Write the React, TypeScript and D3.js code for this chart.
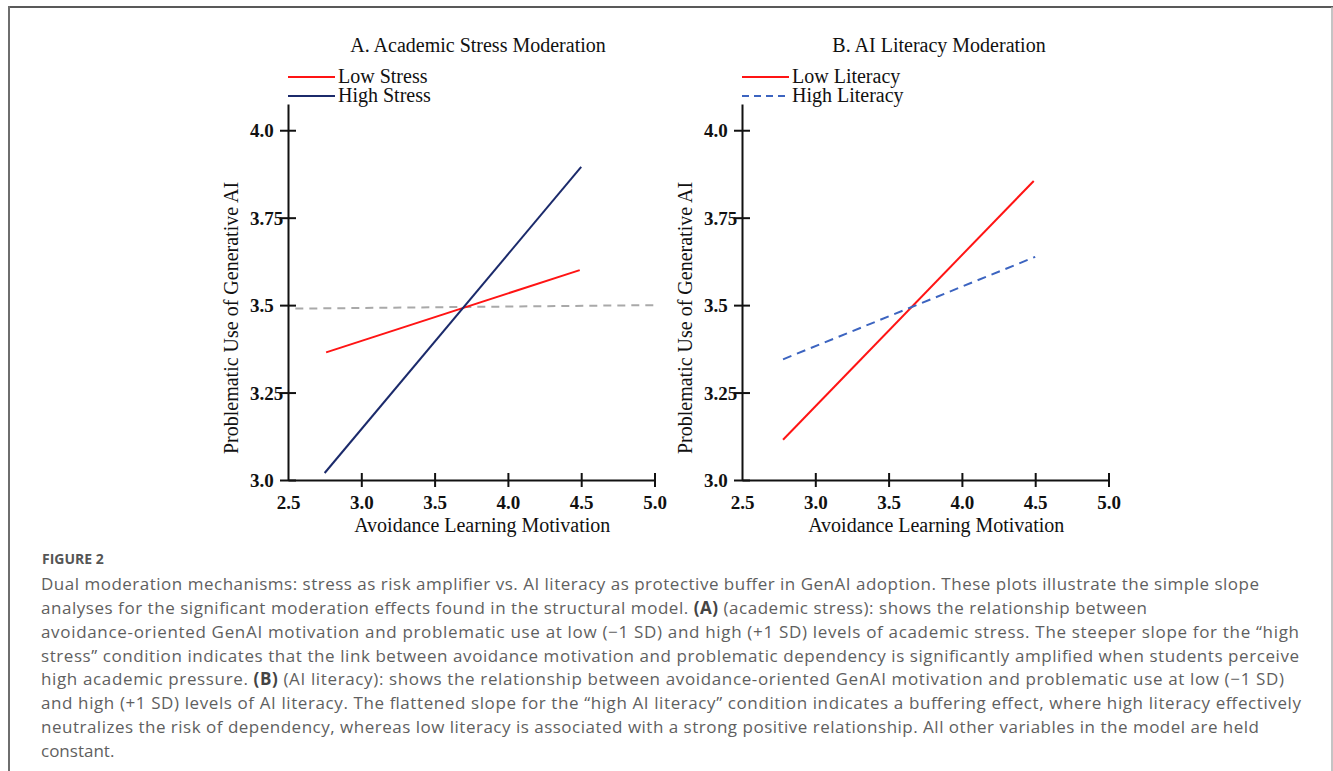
import { useEffect, useRef } from 'react'
import * as d3 from 'd3'

// eixos compartilhados pelos dois painéis
const X_TICKS = [2.5, 3.0, 3.5, 4.0, 4.5, 5.0]
const X_TICK_LABELS = ['2.5', '3.0', '3.5', '4.0', '4.5', '5.0']
const Y_TICKS = [3.0, 3.25, 3.5, 3.75, 4.0]
const Y_TICK_LABELS = ['3.0', '3.25', '3.5', '3.75', '4.0']
const X_DOMAIN = [2.5, 5.0]
const Y_DOMAIN = [3.0, 4.075] // o eixo y sobe um pouco acima do 4.0

// painel A — estresse acadêmico
const LOW_STRESS: [number, number][] = [[2.76, 3.365], [4.49, 3.6]]
const HIGH_STRESS: [number, number][] = [[2.75, 3.02], [4.5, 3.895]]
const REFERENCE: [number, number][] = [[2.55, 3.49], [5.0, 3.5]]

// painel B — letramento em IA
const LOW_LITERACY: [number, number][] = [[2.78, 3.115], [4.49, 3.855]]
const HIGH_LITERACY: [number, number][] = [[2.78, 3.345], [4.5, 3.638]]

const RED = '#ff1414'
const NAVY = '#1b2a6b'
const BLUE = '#3c64c0'
const GREY = '#a9a9a9'
const SERIF = '"Liberation Serif", "Times New Roman", serif'
const SANS = '"Open Sans", Lato, sans-serif'

// cada linha da legenda: trechos [texto, negrito] e largura da linha no original
const CAPTION: [string, boolean][][] = [
  [['Dual moderation mechanisms: stress as risk amplifier vs. AI literacy as protective buffer in GenAI adoption. These plots illustrate the simple slope', false]],
  [['analyses for the significant moderation effects found in the structural model. ', false], ['(A)', true], [' (academic stress): shows the relationship between', false]],
  [['avoidance-oriented GenAI motivation and problematic use at low (\u22121 SD) and high (+1 SD) levels of academic stress. The steeper slope for the \u201chigh', false]],
  [['stress\u201d condition indicates that the link between avoidance motivation and problematic dependency is significantly amplified when students perceive', false]],
  [['high academic pressure. ', false], ['(B)', true], [' (AI literacy): shows the relationship between avoidance-oriented GenAI motivation and problematic use at low (\u22121 SD)', false]],
  [['and high (+1 SD) levels of AI literacy. The flattened slope for the \u201chigh AI literacy\u201d condition indicates a buffering effect, where high literacy effectively', false]],
  [['neutralizes the risk of dependency, whereas low literacy is associated with a strong positive relationship. All other variables in the model are held', false]],
  [['constant.', false]],
]
const CAPTION_WIDTHS = [1218, 1106, 1258, 1258, 1243, 1260, 1218, null]

type Series = { label: string; data: [number, number][]; color: string; dash: string | null; legendDash: string | null }
type Panel = { left: number; title: string; titleX: number; series: Series[]; extra: Series[] }

const PANELS: Panel[] = [
  {
    left: 288,
    title: 'A. Academic Stress Moderation',
    titleX: 478,
    series: [
      { label: 'Low Stress', data: LOW_STRESS, color: RED, dash: null, legendDash: null },
      { label: 'High Stress', data: HIGH_STRESS, color: NAVY, dash: null, legendDash: null },
    ],
    extra: [{ label: '', data: REFERENCE, color: GREY, dash: '8,6', legendDash: null }],
  },
  {
    left: 742,
    title: 'B. AI Literacy Moderation',
    titleX: 939,
    series: [
      { label: 'Low Literacy', data: LOW_LITERACY, color: RED, dash: null, legendDash: null },
      { label: 'High Literacy', data: HIGH_LITERACY, color: BLUE, dash: '9,6', legendDash: '7,5' },
    ],
    extra: [],
  },
]

function drawPanel(svg: d3.Selection<SVGSVGElement, unknown, null, undefined>, p: Panel) {
  const W = 366.5
  const x = d3.scaleLinear().domain(X_DOMAIN).range([p.left, p.left + W])
  const y = d3.scaleLinear().domain(Y_DOMAIN).range([480, 104])
  const g = svg.append('g')

  // título
  g.append('text')
    .attr('x', p.titleX).attr('y', 52)
    .attr('text-anchor', 'middle')
    .attr('font-family', SERIF).attr('font-size', 20).attr('fill', '#111')
    .text(p.title)

  // legenda
  p.series.forEach((s, i) => {
    const ly = 77 + i * 19
    g.append('line')
      .attr('x1', p.left).attr('x2', p.left + 47).attr('y1', ly).attr('y2', ly)
      .attr('stroke', s.color).attr('stroke-width', 2)
      .attr('stroke-dasharray', s.legendDash)
    g.append('text')
      .attr('x', p.left + 50).attr('y', ly + 6)
      .attr('font-family', SERIF).attr('font-size', 20).attr('fill', '#111')
      .text(s.label)
  })

  // eixo y
  g.append('g')
    .attr('transform', `translate(${p.left},0)`)
    .call(d3.axisLeft(y).tickValues(Y_TICKS).tickSize(8).tickSizeOuter(0)
      .tickFormat((d, i) => Y_TICK_LABELS[i]))
    .call(s => s.select('.domain').attr('stroke', '#111').attr('stroke-width', 2))
    .call(s => s.selectAll('.tick line').attr('x1', 8).attr('stroke', '#111').attr('stroke-width', 2))
    .call(s => s.selectAll('.tick text')
      .attr('x', -38).attr('dy', '0.34em').attr('text-anchor', 'start')
      .attr('font-family', SERIF).attr('font-weight', 700).attr('font-size', 19).attr('fill', '#111'))

  // eixo x
  g.append('g')
    .attr('transform', 'translate(0,480)')
    .call(d3.axisBottom(x).tickValues(X_TICKS).tickSize(7).tickSizeOuter(0)
      .tickFormat((d, i) => X_TICK_LABELS[i]))
    .call(s => s.select('.domain').attr('stroke', '#111').attr('stroke-width', 2))
    .call(s => s.selectAll('.tick line').attr('y1', -7).attr('stroke', '#111').attr('stroke-width', 2)
      .attr('opacity', (d: any) => (d === X_DOMAIN[0] ? 0 : 1)))
    .call(s => s.selectAll('.tick text')
      .attr('y', 29).attr('dy', 0)
      .attr('font-family', SERIF).attr('font-weight', 700).attr('font-size', 19).attr('fill', '#111'))

  // rótulos dos eixos
  g.append('text')
    .attr('x', p.left + W / 2 + 11).attr('y', 532)
    .attr('text-anchor', 'middle')
    .attr('font-family', SERIF).attr('font-size', 20).attr('fill', '#111')
    .text('Avoidance Learning Motivation')
  g.append('text')
    .attr('transform', `translate(${p.left - 50},318) rotate(-90)`)
    .attr('text-anchor', 'middle')
    .attr('font-family', SERIF).attr('font-size', 20).attr('fill', '#111')
    .text('Problematic Use of Generative AI')

  const line = d3.line<[number, number]>().x(d => x(d[0])).y(d => y(d[1]))
  ;[...p.extra, ...p.series].forEach(s => {
    g.append('path')
      .datum(s.data)
      .attr('fill', 'none')
      .attr('stroke', s.color).attr('stroke-width', 2)
      .attr('stroke-dasharray', s.dash)
      .attr('d', line)
  })
}

export default function App() {
  const ref = useRef<SVGSVGElement>(null)

  useEffect(() => {
    if (!ref.current) return
    const svg = d3.select(ref.current)
    svg.selectAll('*').remove()

    // moldura (topo escuro, laterais cinza)
    svg.append('line').attr('x1', 8).attr('x2', 1333).attr('y1', 7).attr('y2', 7)
      .attr('stroke', '#222').attr('stroke-width', 1.5)
    svg.append('line').attr('x1', 9).attr('x2', 9).attr('y1', 6).attr('y2', 771)
      .attr('stroke', '#6e6e6e').attr('stroke-width', 2)
    svg.append('line').attr('x1', 1332).attr('x2', 1332).attr('y1', 7).attr('y2', 771)
      .attr('stroke', '#b0b0b0').attr('stroke-width', 1.5)

    PANELS.forEach(p => drawPanel(svg, p))

    // legenda da figura
    svg.append('text')
      .attr('x', 42).attr('y', 564)
      .attr('font-family', SANS).attr('font-weight', 700).attr('font-size', 14).attr('fill', '#555')
      .text('FIGURE 2')
    CAPTION.forEach((parts, i) => {
      const t = svg.append('text')
        .attr('x', 41).attr('y', 590 + i * 23.85)
        .attr('font-family', SANS).attr('font-size', 17).attr('fill', '#5f5f5f')
      if (CAPTION_WIDTHS[i]) t.attr('textLength', CAPTION_WIDTHS[i]).attr('lengthAdjust', 'spacing')
      parts.forEach(([str, bold]) => {
        t.append('tspan').attr('font-weight', bold ? 700 : 400).attr('fill', bold ? '#444' : null).text(str)
      })
    })
  }, [])

  return (
    <div style={{ position: 'absolute', left: 0, top: 0 }}>
      <svg ref={ref} width={1333} height={771} style={{ display: 'block', background: '#fff' }} />
    </div>
  )
}
